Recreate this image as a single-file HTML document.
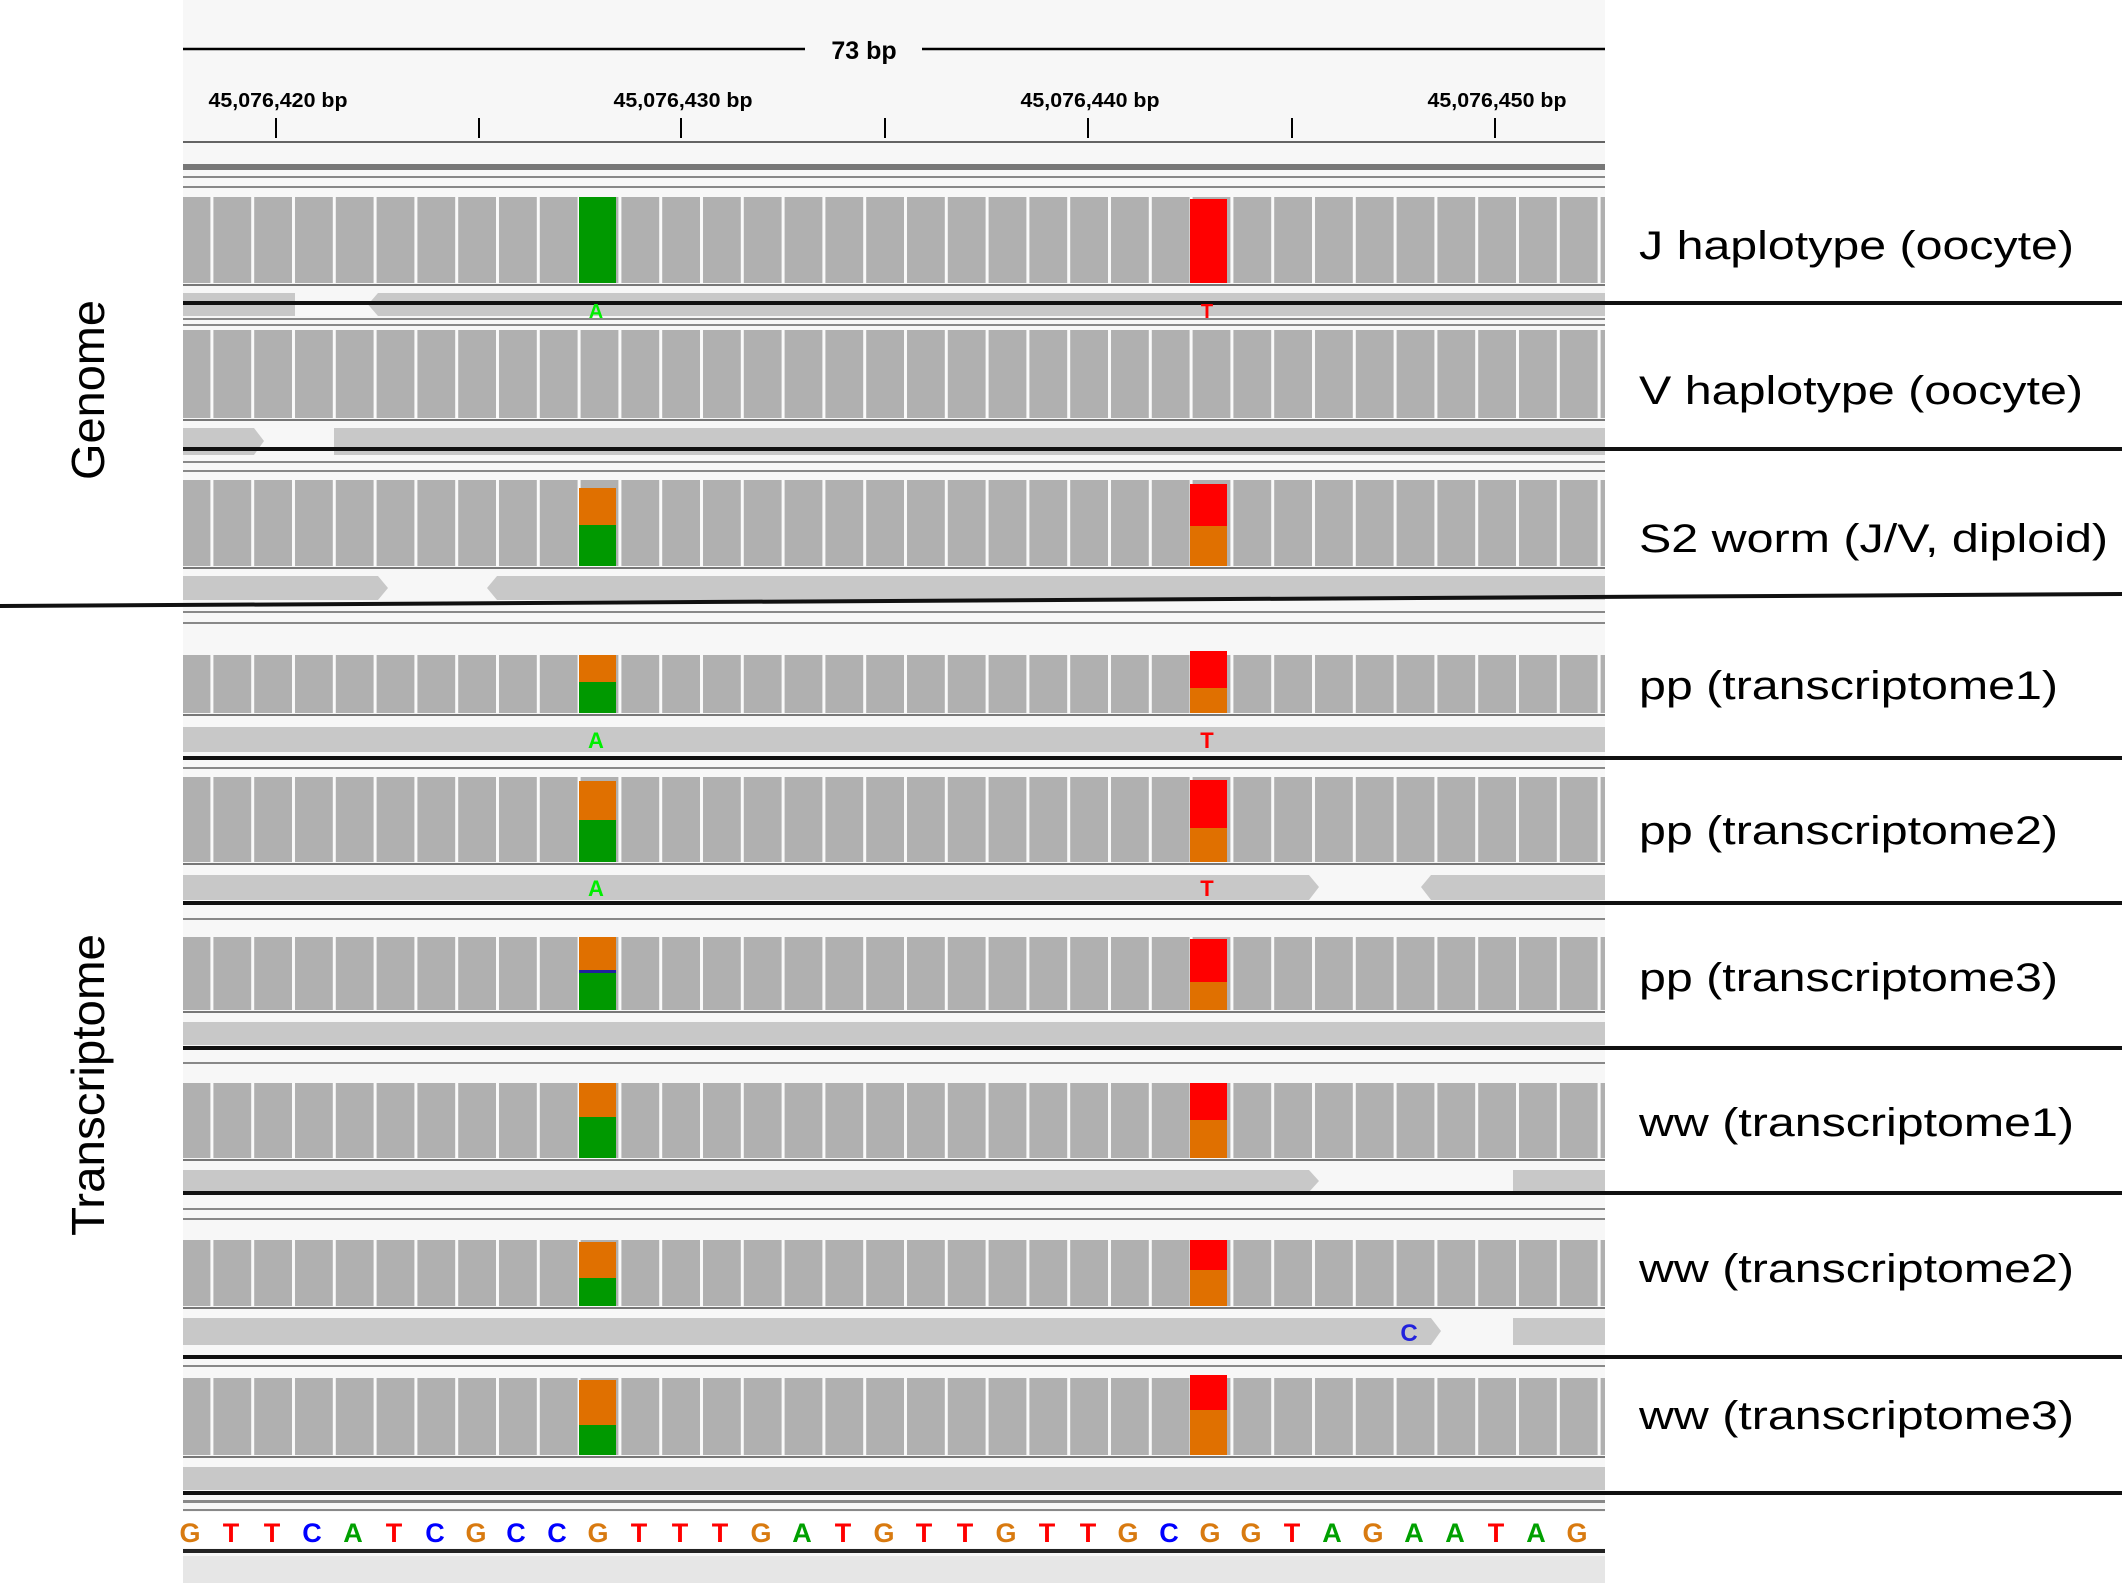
<!DOCTYPE html>
<html><head><meta charset="utf-8"><style>
html,body{margin:0;padding:0;background:#fff;}
svg{display:block;font-family:"Liberation Sans",Arial,sans-serif;}
</style></head><body>
<svg width="2122" height="1583" viewBox="0 0 2122 1583" xmlns="http://www.w3.org/2000/svg">
<defs>
<pattern id="sep" patternUnits="userSpaceOnUse" x="169.6" y="0" width="40.8" height="2000">
<rect x="0" y="0" width="40.8" height="2000" fill="#b0b0b0"/>
<rect x="0" y="0" width="3" height="2000" fill="#fafafa"/>
</pattern>
</defs>
<rect x="183" y="0" width="1422" height="1583" fill="#f7f7f7"/>
<!-- ruler -->
<line x1="183" y1="49" x2="805" y2="49" stroke="#000" stroke-width="2.5"/>
<line x1="922" y1="49" x2="1605" y2="49" stroke="#000" stroke-width="2.5"/>
<text x="864" y="59" font-size="25" font-weight="bold" text-anchor="middle">73 bp</text>
<g font-size="20" font-weight="bold" text-anchor="middle">
<text x="278" y="107" textLength="139" lengthAdjust="spacingAndGlyphs">45,076,420 bp</text>
<text x="683" y="107" textLength="139" lengthAdjust="spacingAndGlyphs">45,076,430 bp</text>
<text x="1090" y="107" textLength="139" lengthAdjust="spacingAndGlyphs">45,076,440 bp</text>
<text x="1497" y="107" textLength="139" lengthAdjust="spacingAndGlyphs">45,076,450 bp</text>
</g>
<g stroke="#000" stroke-width="2">
<line x1="276" y1="118" x2="276" y2="138"/><line x1="479" y1="118" x2="479" y2="138"/>
<line x1="681" y1="118" x2="681" y2="138"/><line x1="885" y1="118" x2="885" y2="138"/>
<line x1="1088" y1="118" x2="1088" y2="138"/><line x1="1292" y1="118" x2="1292" y2="138"/>
<line x1="1495" y1="118" x2="1495" y2="138"/>
</g>
<line x1="183" y1="142" x2="1605" y2="142" stroke="#333" stroke-width="1.5"/>
<rect x="183" y="164" width="1422" height="6" fill="#777"/>
<rect x="183" y="176" width="1422" height="2" fill="#888"/>
<rect x="183" y="186" width="1422" height="2" fill="#888"/>

<!-- J -->
<rect x="183" y="197" width="1422" height="86" fill="url(#sep)"/>
<rect x="579" y="197" width="37" height="86" fill="#009900"/>
<rect x="1190" y="199" width="37" height="84" fill="#ff0000"/>
<rect x="183" y="284" width="1422" height="2" fill="#777"/>
<rect x="183" y="293" width="112" height="23" fill="#c8c8c8"/>
<polygon points="378,293 1605,293 1605,316 378,316 368,304.5" fill="#c8c8c8"/>
<line x1="183" y1="303" x2="2122" y2="303" stroke="#111" stroke-width="4"/>
<text x="596" y="318" font-size="20" font-weight="bold" fill="#00ee00" text-anchor="middle">A</text>
<text x="1207" y="318" font-size="20" font-weight="bold" fill="#ff0000" text-anchor="middle">T</text>
<rect x="183" y="318" width="1422" height="2" fill="#888"/>

<!-- V -->
<rect x="183" y="324" width="1422" height="2" fill="#888"/>
<rect x="183" y="330" width="1422" height="88" fill="url(#sep)"/>
<rect x="183" y="419" width="1422" height="2" fill="#777"/>
<polygon points="183,428 254,428 264,441 254,455 183,455" fill="#c8c8c8"/>
<rect x="334" y="428" width="1271" height="27" fill="#c8c8c8"/>
<line x1="183" y1="449" x2="2122" y2="449" stroke="#111" stroke-width="4"/>
<rect x="183" y="461" width="1422" height="2" fill="#888"/>
<rect x="183" y="470" width="1422" height="2" fill="#888"/>

<!-- S2 -->
<rect x="183" y="480" width="1422" height="86" fill="url(#sep)"/>
<rect x="579" y="488" width="37" height="37" fill="#e07000"/><rect x="579" y="525" width="37" height="41" fill="#009900"/>
<rect x="1190" y="484" width="37" height="42" fill="#ff0000"/><rect x="1190" y="526" width="37" height="40" fill="#e07000"/>
<rect x="183" y="567" width="1422" height="2" fill="#777"/>
<polygon points="183,576 378,576 388,588 378,600 183,600" fill="#c8c8c8"/>
<polygon points="497,576 1605,576 1605,600 497,600 487,588" fill="#c8c8c8"/>
<line x1="0" y1="606" x2="2122" y2="594" stroke="#111" stroke-width="4"/>
<rect x="183" y="611" width="1422" height="2" fill="#888"/>
<rect x="183" y="622" width="1422" height="2" fill="#888"/>

<!-- pp1 -->
<rect x="183" y="655" width="1422" height="58" fill="url(#sep)"/>
<rect x="579" y="655" width="37" height="27" fill="#e07000"/><rect x="579" y="682" width="37" height="31" fill="#009900"/>
<rect x="1190" y="651" width="37" height="37" fill="#ff0000"/><rect x="1190" y="688" width="37" height="25" fill="#e07000"/>
<rect x="183" y="714" width="1422" height="2" fill="#777"/>
<rect x="183" y="727" width="1422" height="25" fill="#c8c8c8"/>
<text x="596" y="748" font-size="22" font-weight="bold" fill="#00ee00" text-anchor="middle">A</text>
<text x="1207" y="748" font-size="22" font-weight="bold" fill="#ff0000" text-anchor="middle">T</text>
<line x1="183" y1="758" x2="2122" y2="758" stroke="#111" stroke-width="4"/>
<rect x="183" y="767" width="1422" height="2" fill="#888"/>

<!-- pp2 -->
<rect x="183" y="777" width="1422" height="85" fill="url(#sep)"/>
<rect x="579" y="781" width="37" height="39" fill="#e07000"/><rect x="579" y="820" width="37" height="42" fill="#009900"/>
<rect x="1190" y="780" width="37" height="48" fill="#ff0000"/><rect x="1190" y="828" width="37" height="34" fill="#e07000"/>
<rect x="183" y="863" width="1422" height="2" fill="#777"/>
<polygon points="183,875 1309,875 1319,887 1309,900 183,900" fill="#c8c8c8"/>
<polygon points="1431,875 1605,875 1605,900 1431,900 1421,887" fill="#c8c8c8"/>
<text x="596" y="896" font-size="22" font-weight="bold" fill="#00ee00" text-anchor="middle">A</text>
<text x="1207" y="896" font-size="22" font-weight="bold" fill="#ff0000" text-anchor="middle">T</text>
<line x1="183" y1="903" x2="2122" y2="903" stroke="#111" stroke-width="4"/>
<rect x="183" y="918" width="1422" height="2" fill="#888"/>

<!-- pp3 -->
<rect x="183" y="937" width="1422" height="73" fill="url(#sep)"/>
<rect x="579" y="937" width="37" height="33" fill="#e07000"/><rect x="579" y="970" width="37" height="3" fill="#2020a0"/><rect x="579" y="973" width="37" height="37" fill="#009900"/>
<rect x="1190" y="939" width="37" height="43" fill="#ff0000"/><rect x="1190" y="982" width="37" height="28" fill="#e07000"/>
<rect x="183" y="1011" width="1422" height="2" fill="#777"/>
<rect x="183" y="1022" width="1422" height="23" fill="#c8c8c8"/>
<line x1="183" y1="1048" x2="2122" y2="1048" stroke="#111" stroke-width="4"/>
<rect x="183" y="1062" width="1422" height="2" fill="#888"/>

<!-- ww1 -->
<rect x="183" y="1083" width="1422" height="75" fill="url(#sep)"/>
<rect x="579" y="1083" width="37" height="34" fill="#e07000"/><rect x="579" y="1117" width="37" height="41" fill="#009900"/>
<rect x="1190" y="1083" width="37" height="37" fill="#ff0000"/><rect x="1190" y="1120" width="37" height="38" fill="#e07000"/>
<rect x="183" y="1159" width="1422" height="2" fill="#777"/>
<polygon points="183,1170 1309,1170 1319,1181 1309,1192 183,1192" fill="#c8c8c8"/>
<rect x="1513" y="1170" width="92" height="22" fill="#c8c8c8"/>
<line x1="183" y1="1193" x2="2122" y2="1193" stroke="#111" stroke-width="4"/>
<rect x="183" y="1208" width="1422" height="2" fill="#888"/>
<rect x="183" y="1218" width="1422" height="2" fill="#888"/>

<!-- ww2 -->
<rect x="183" y="1240" width="1422" height="66" fill="url(#sep)"/>
<rect x="579" y="1242" width="37" height="36" fill="#e07000"/><rect x="579" y="1278" width="37" height="28" fill="#009900"/>
<rect x="1190" y="1240" width="37" height="30" fill="#ff0000"/><rect x="1190" y="1270" width="37" height="36" fill="#e07000"/>
<rect x="183" y="1307" width="1422" height="2" fill="#777"/>
<polygon points="183,1318 1431,1318 1441,1331 1431,1345 183,1345" fill="#c8c8c8"/>
<rect x="1513" y="1318" width="92" height="27" fill="#c8c8c8"/>
<text x="1409" y="1341" font-size="24" font-weight="bold" fill="#2222dd" text-anchor="middle">C</text>
<line x1="183" y1="1357" x2="2122" y2="1357" stroke="#111" stroke-width="4"/>
<rect x="183" y="1365" width="1422" height="2" fill="#888"/>

<!-- ww3 -->
<rect x="183" y="1378" width="1422" height="77" fill="url(#sep)"/>
<rect x="579" y="1380" width="37" height="45" fill="#e07000"/><rect x="579" y="1425" width="37" height="30" fill="#009900"/>
<rect x="1190" y="1375" width="37" height="35" fill="#ff0000"/><rect x="1190" y="1410" width="37" height="45" fill="#e07000"/>
<rect x="183" y="1456" width="1422" height="2" fill="#777"/>
<rect x="183" y="1467" width="1422" height="23" fill="#c8c8c8"/>
<line x1="183" y1="1493" x2="2122" y2="1493" stroke="#111" stroke-width="4"/>
<rect x="183" y="1500" width="1422" height="3" fill="#888"/>
<rect x="183" y="1509" width="1422" height="2" fill="#888"/>

<!-- sequence -->
<rect x="183" y="1512" width="1422" height="36" fill="#fff"/>
<g font-size="27" font-weight="bold" text-anchor="middle">
<text y="1542" x="190" fill="#d87a10">G</text><text y="1542" x="231" fill="#ff0000">T</text><text y="1542" x="272" fill="#ff0000">T</text><text y="1542" x="312" fill="#0000ff">C</text><text y="1542" x="353" fill="#00a000">A</text><text y="1542" x="394" fill="#ff0000">T</text><text y="1542" x="435" fill="#0000ff">C</text><text y="1542" x="476" fill="#d87a10">G</text><text y="1542" x="516" fill="#0000ff">C</text><text y="1542" x="557" fill="#0000ff">C</text>
<text y="1542" x="598" fill="#d87a10">G</text><text y="1542" x="639" fill="#ff0000">T</text><text y="1542" x="680" fill="#ff0000">T</text><text y="1542" x="720" fill="#ff0000">T</text><text y="1542" x="761" fill="#d87a10">G</text><text y="1542" x="802" fill="#00a000">A</text><text y="1542" x="843" fill="#ff0000">T</text><text y="1542" x="884" fill="#d87a10">G</text><text y="1542" x="924" fill="#ff0000">T</text><text y="1542" x="965" fill="#ff0000">T</text>
<text y="1542" x="1006" fill="#d87a10">G</text><text y="1542" x="1047" fill="#ff0000">T</text><text y="1542" x="1088" fill="#ff0000">T</text><text y="1542" x="1128" fill="#d87a10">G</text><text y="1542" x="1169" fill="#0000ff">C</text><text y="1542" x="1210" fill="#d87a10">G</text><text y="1542" x="1251" fill="#d87a10">G</text><text y="1542" x="1292" fill="#ff0000">T</text><text y="1542" x="1332" fill="#00a000">A</text><text y="1542" x="1373" fill="#d87a10">G</text>
<text y="1542" x="1414" fill="#00a000">A</text><text y="1542" x="1455" fill="#00a000">A</text><text y="1542" x="1496" fill="#ff0000">T</text><text y="1542" x="1536" fill="#00a000">A</text><text y="1542" x="1577" fill="#d87a10">G</text>
</g>
<rect x="183" y="1549" width="1422" height="4" fill="#222"/>
<rect x="183" y="1556" width="1422" height="27" fill="#e6e6e6"/>

<!-- right labels -->
<g font-size="40" fill="#000">
<text x="1639" y="259" textLength="435" lengthAdjust="spacingAndGlyphs">J haplotype (oocyte)</text>
<text x="1639" y="404" textLength="444" lengthAdjust="spacingAndGlyphs">V haplotype (oocyte)</text>
<text x="1639" y="552" textLength="469" lengthAdjust="spacingAndGlyphs">S2 worm (J/V, diploid)</text>
<text x="1639" y="699" textLength="419" lengthAdjust="spacingAndGlyphs">pp (transcriptome1)</text>
<text x="1639" y="844" textLength="419" lengthAdjust="spacingAndGlyphs">pp (transcriptome2)</text>
<text x="1639" y="991" textLength="419" lengthAdjust="spacingAndGlyphs">pp (transcriptome3)</text>
<text x="1639" y="1136" textLength="435" lengthAdjust="spacingAndGlyphs">ww (transcriptome1)</text>
<text x="1639" y="1282" textLength="435" lengthAdjust="spacingAndGlyphs">ww (transcriptome2)</text>
<text x="1639" y="1429" textLength="435" lengthAdjust="spacingAndGlyphs">ww (transcriptome3)</text>
</g>
<!-- left labels -->
<g font-size="46" fill="#000" text-anchor="middle">
<text transform="translate(104,390) rotate(-90)" textLength="180" lengthAdjust="spacingAndGlyphs">Genome</text>
<text transform="translate(104,1085) rotate(-90)" textLength="302" lengthAdjust="spacingAndGlyphs">Transcriptome</text>
</g>
</svg>
</body></html>
